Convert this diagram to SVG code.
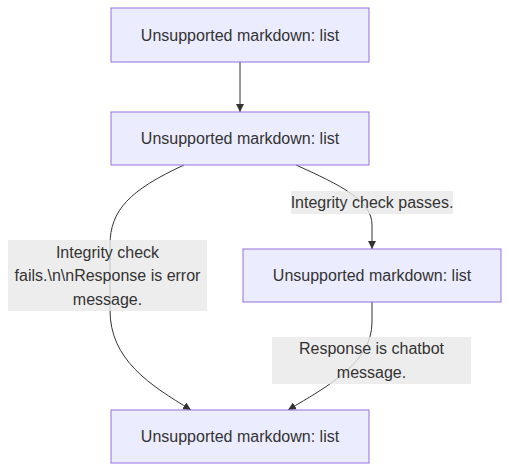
<svg xmlns="http://www.w3.org/2000/svg" width="509" height="472" viewBox="0 0 509 472">
<style>
.node rect{fill:#ECECFF;stroke:#9370DB;stroke-width:1}
text{font-family:"Liberation Sans",Arial,sans-serif;font-size:16px;fill:#333;text-anchor:middle;dominant-baseline:central}
.edge{fill:none;stroke:#333;stroke-width:1}
.lbl rect{fill:rgba(232,232,232,0.8);stroke:none}
</style>
<defs>
<marker id="arr" viewBox="0 0 10 10" refX="10" refY="5" markerWidth="8" markerHeight="8" markerUnits="userSpaceOnUse" orient="auto">
<path d="M0,0 L10,5 L0,10 z" fill="#333"/>
</marker>
</defs>
<rect width="509" height="472" fill="#fff"/>
<g id="connectors">
<path class="edge" d="M240,62 L240,112" marker-end="url(#arr)"/>
<path class="edge" d="M184,165 C130,190 110,210 110,245 L110,310 C110,360 150,385 191,410" marker-end="url(#arr)"/>
<path class="edge" d="M296,165 C340,185 372,200 372,225 L372,249" marker-end="url(#arr)"/>
<path class="edge" d="M372,302 L372,322 C372,362 330,385 288,410" marker-end="url(#arr)"/>
</g>
<g id="edge-labels">
<g class="lbl" id="label-pass"><rect x="291" y="191" width="162" height="23"/><text x="372" y="202.5">Integrity check passes.</text></g>
<g class="lbl" id="label-fail"><rect x="8" y="240" width="199" height="71"/><text x="107.5" y="252">Integrity check</text><text x="107.5" y="275.5">fails.\n\nResponse is error</text><text x="107.5" y="299">message.</text></g>
<g class="lbl" id="label-chat"><rect x="272" y="337" width="199" height="47"/><text x="371.5" y="348.5">Response is chatbot</text><text x="371.5" y="372">message.</text></g>
</g>
<g class="node" id="nodeA"><rect x="111" y="8" width="258" height="54"/><text x="240" y="35">Unsupported markdown: list</text></g>
<g class="node" id="nodeB"><rect x="111" y="112" width="258" height="53"/><text x="240" y="138.5">Unsupported markdown: list</text></g>
<g class="node" id="nodeC"><rect x="243" y="249" width="258" height="53"/><text x="372" y="275.5">Unsupported markdown: list</text></g>
<g class="node" id="nodeD"><rect x="111" y="410" width="258" height="53"/><text x="240" y="436.5">Unsupported markdown: list</text></g>
</svg>
